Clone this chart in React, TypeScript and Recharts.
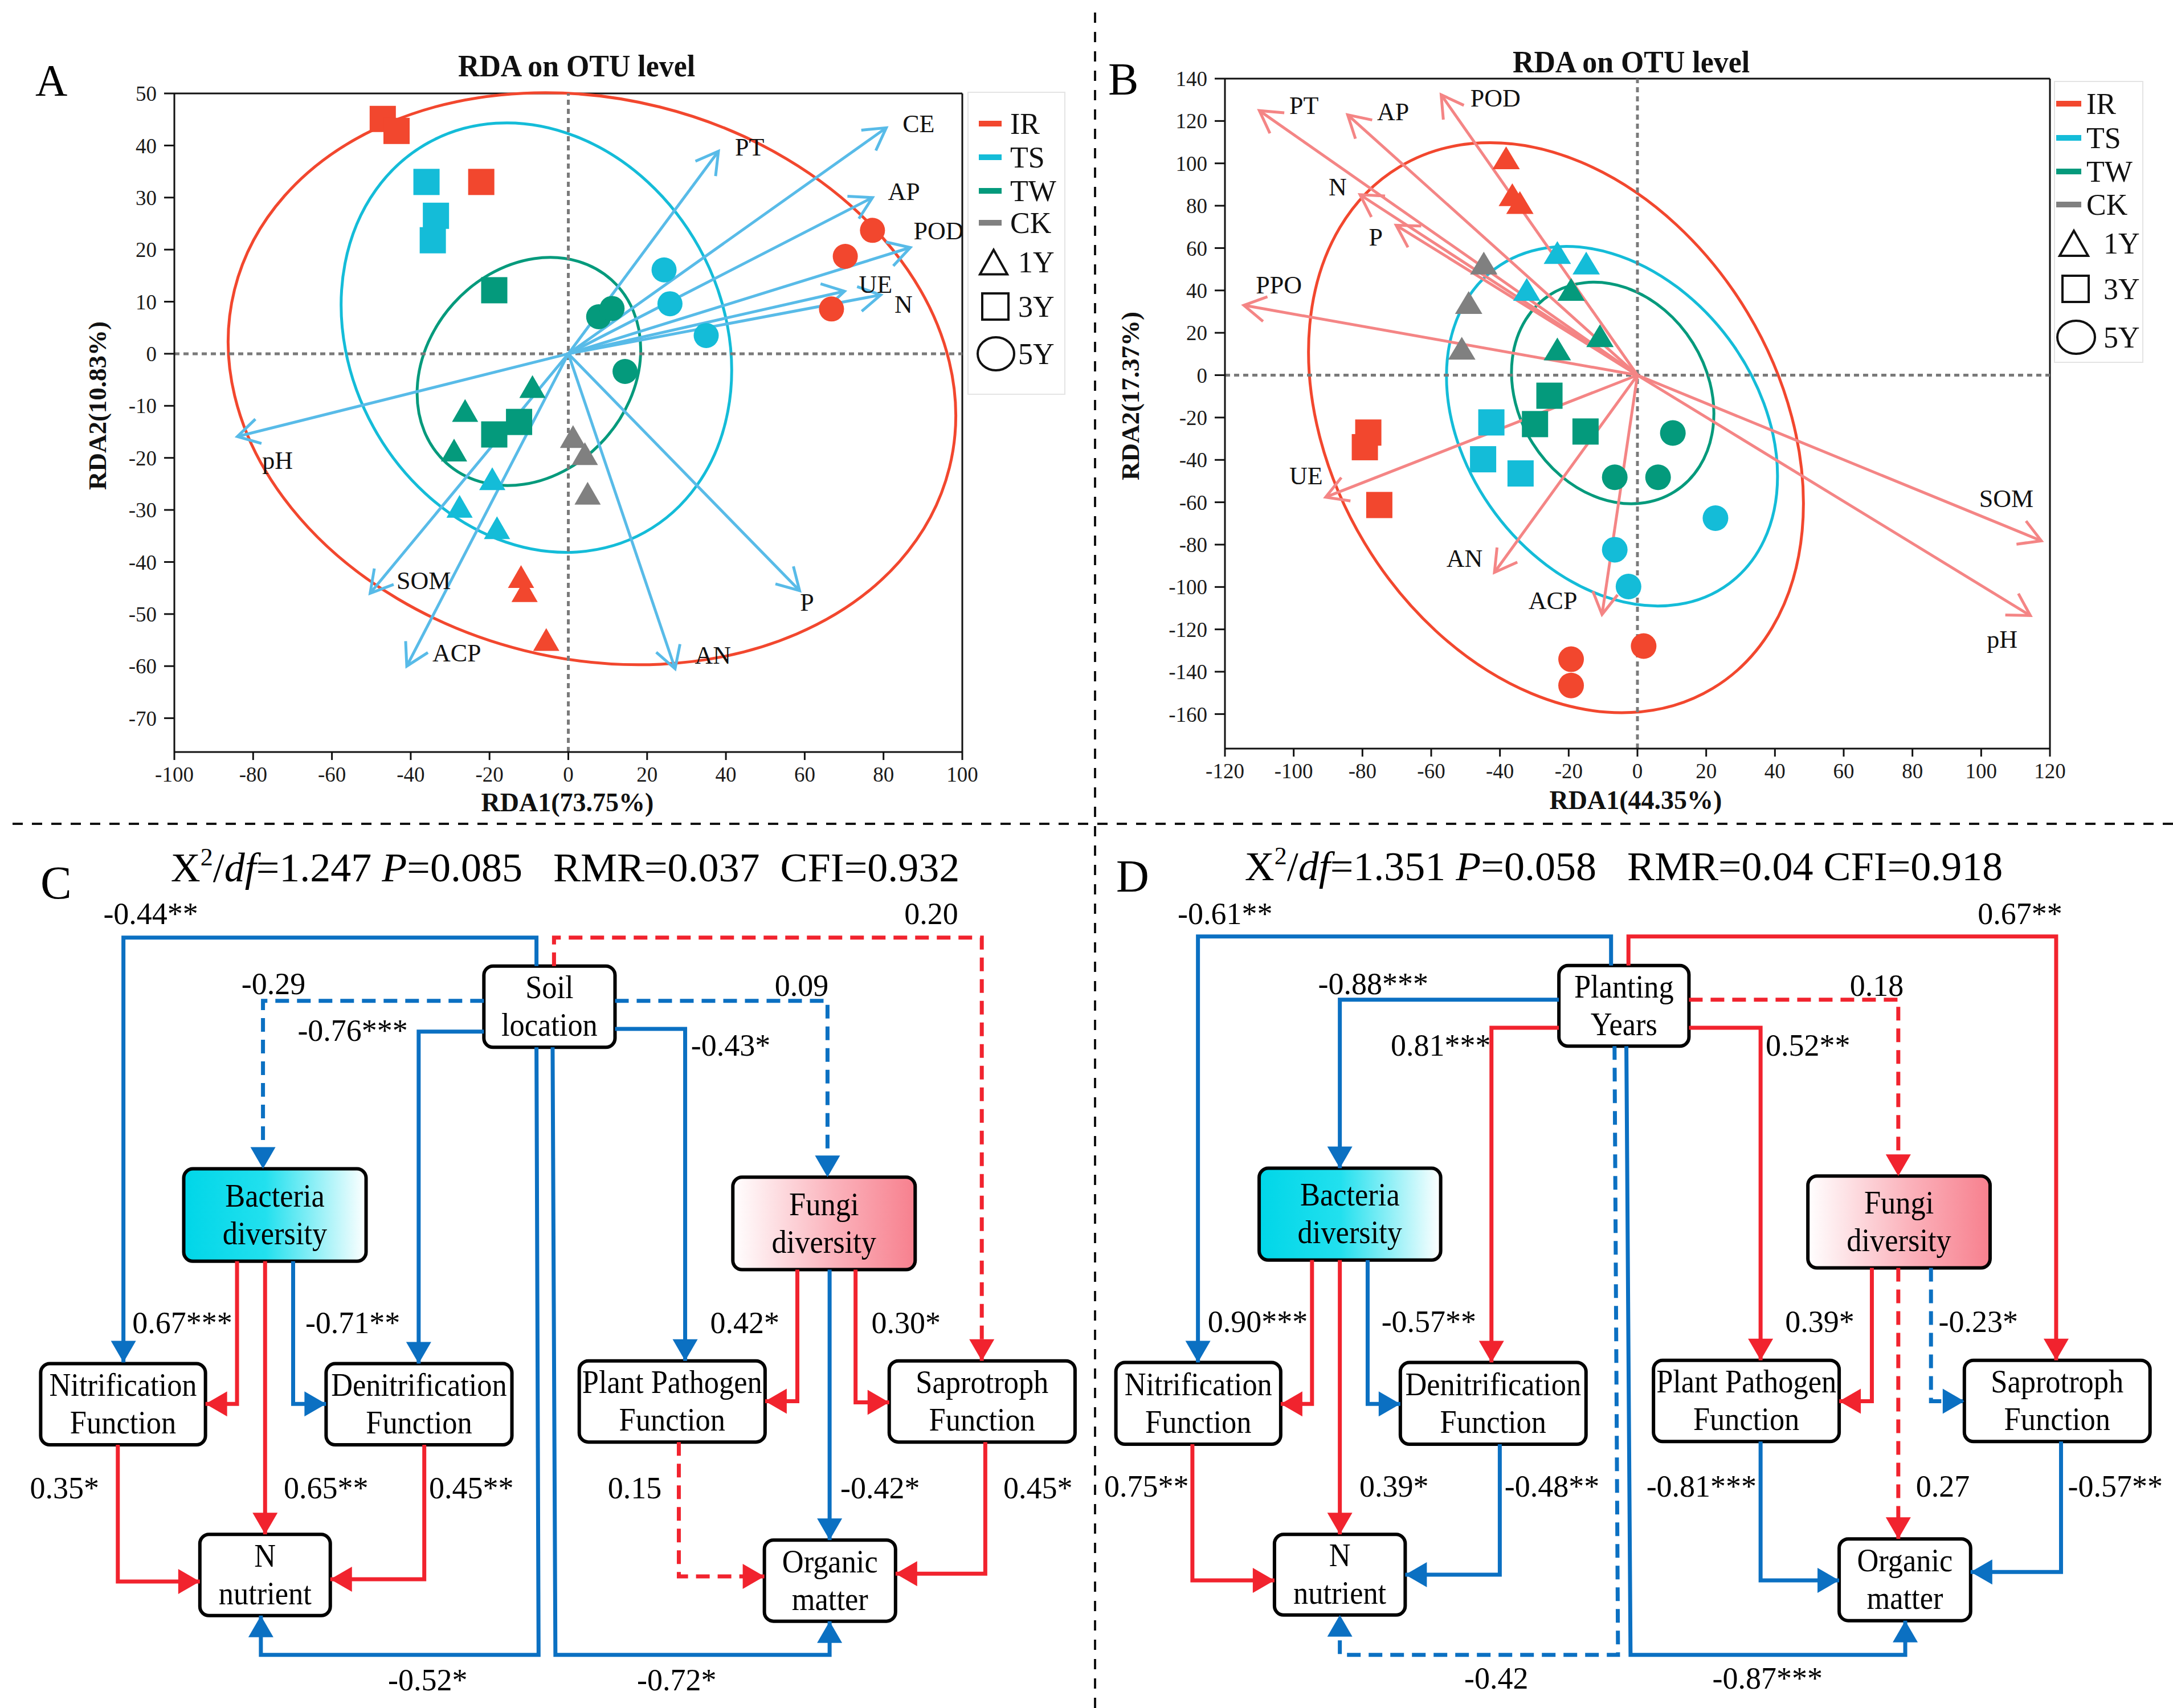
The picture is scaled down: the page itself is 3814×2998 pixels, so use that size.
import React from "react";
import { ScatterChart, Scatter, XAxis, YAxis, ReferenceLine } from "recharts";

const FONT = "'Liberation Serif', 'Times New Roman', serif";

// group colours
const IR = "#F2472E";
const TS = "#14BCD8";
const TW = "#049A7C";
const CK = "#808080";
const SKY = "#58BBE8";
const SALMON = "#F48585";
const PATH_BLUE = "#0B70C2";
const PATH_RED = "#F1232E";

const GROUP_NAMES = ["IR", "TS", "TW", "CK"];
const GROUP_COLORS = [IR, TS, TW, CK];
const YEAR_NAMES = ["1Y", "3Y", "5Y"];

// ---------- panel A : RDA on OTU level ----------
const A_X_TICKS = [-100, -80, -60, -40, -20, 0, 20, 40, 60, 80, 100];
const A_Y_TICKS = [-70, -60, -50, -40, -30, -20, -10, 0, 10, 20, 30, 40, 50];

const A_IR_1Y = [[-12.0, -42.8], [-11.1, -45.5], [-5.6, -54.9]];
const A_TS_1Y = [[-19.3, -24.0], [-27.6, -29.3], [-18.1, -33.4]];
const A_TW_1Y = [[-9.1, -6.3], [-26.2, -10.9], [-29.0, -18.5]];
const A_CK_1Y = [[1.2, -15.9], [4.2, -19.2], [4.9, -26.8]];
const A_IR_3Y = [[-47.1, 45.1], [-43.6, 42.8], [-22.1, 33.0]];
const A_TS_3Y = [[-36.0, 33.0], [-33.6, 26.5], [-34.4, 21.8]];
const A_TW_3Y = [[-18.8, 12.2], [-12.5, -13.1], [-18.8, -15.5]];
const A_IR_5Y = [[77.2, 23.7], [70.3, 18.7], [66.8, 8.6]];
const A_TS_5Y = [[24.3, 16.1], [25.8, 9.6], [35.0, 3.5]];
const A_TW_5Y = [[7.7, 7.1], [11.1, 8.7], [14.4, -3.4]];

const A_ENV = ["CE", "PT", "AP", "POD", "UE", "N", "pH", "SOM", "ACP", "AN", "P"];
const A_ENV_TIP = [
  [80.7, 43.4], [38.1, 38.9], [77.2, 30.0], [86.8, 20.4], [70.1, 12.0], [79.3, 11.3],
  [-84.0, -15.9], [-50.3, -46.0], [-41.0, -60.0], [27.1, -60.5], [58.7, -45.5],
];
const A_ENV_LABEL = [
  [88.9, 44.1], [46.0, 39.7], [85.2, 31.1], [94.0, 23.6], [78.0, 13.3], [85.1, 9.5],
  [-73.8, -20.5], [-36.7, -43.6], [-28.3, -57.5], [36.7, -58.0], [60.6, -47.8],
];
// confidence ellipses for IR, TS, TW
const A_ELL_CENTER = [[6.0, -4.8], [-8.1, 3.1], [-10.0, -3.4]];
const A_ELL_RADII = [[93.5, 53.8], [47.2, 42.8], [31.3, 19.5]];
const A_ELL_TILT = [14, -29, -48];

// ---------- panel B : RDA on OTU level ----------
const B_X_TICKS = [-120, -100, -80, -60, -40, -20, 0, 20, 40, 60, 80, 100, 120];
const B_Y_TICKS = [-160, -140, -120, -100, -80, -60, -40, -20, 0, 20, 40, 60, 80, 100, 120, 140];

const B_IR_1Y = [[-38.2, 102.6], [-36.4, 85.2], [-34.2, 81.5]];
const B_TS_1Y = [[-23.3, 57.9], [-14.9, 52.9], [-32.2, 40.5]];
const B_TW_1Y = [[-19.3, 40.5], [-10.9, 18.6], [-23.3, 12.4]];
const B_CK_1Y = [[-44.7, 52.9], [-49.1, 34.3], [-51.1, 12.7]];
const B_IR_3Y = [[-78.3, -27.1], [-79.3, -34.0], [-75.1, -61.3]];
const B_TS_3Y = [[-42.5, -22.3], [-44.9, -39.7], [-34.0, -46.4]];
const B_TW_3Y = [[-25.6, -9.7], [-29.8, -23.1], [-15.1, -26.6]];
const B_IR_5Y = [[1.8, -127.9], [-19.3, -134.1], [-19.3, -146.5]];
const B_TS_5Y = [[22.7, -67.5], [-6.6, -82.4], [-2.6, -99.8]];
const B_TW_5Y = [[10.3, -27.3], [-6.6, -48.2], [6.0, -48.2]];

const B_ENV = ["PT", "AP", "POD", "N", "P", "PPO", "UE", "AN", "ACP", "SOM", "pH"];
const B_ENV_TIP = [
  [-110.0, 124.9], [-84.3, 122.9], [-57.1, 132.4], [-80.7, 85.2], [-70.2, 70.8], [-114.5, 33.0],
  [-90.7, -57.6], [-41.6, -93.1], [-10.3, -113.0], [117.5, -78.2], [114.3, -113.5],
];
const B_ENV_LABEL = [
  [-97.0, 127.1], [-71.1, 124.4], [-41.3, 130.6], [-87.2, 88.7], [-76.1, 65.1], [-104.3, 42.5],
  [-96.4, -47.7], [-50.3, -86.7], [-24.6, -106.5], [107.3, -58.4], [106.1, -124.7],
];
const B_ELL_CENTER = [[-23.7, -24.8], [-7.4, -24.1], [-7.2, -8.4]];
const B_ELL_RADII = [[65.0, 143.6], [42.4, 92.6], [27.5, 55.0]];
const B_ELL_TILT = [-31, -36.7, -32];

// ---------- panels C and D : structural equation models ----------
const NODE_TEXT_C = [
  ["Soil", "location"], ["Bacteria", "diversity"], ["Fungi", "diversity"],
  ["Nitrification", "Function"], ["Denitrification", "Function"], ["Plant Pathogen", "Function"],
  ["Saprotroph", "Function"], ["N", "nutrient"], ["Organic", "matter"],
];
const NODE_TEXT_D = [["Planting", "Years"], ...NODE_TEXT_C.slice(1)];

// node boxes in diagram units [x1, y1, x2, y2]
const C_BOX = [
  [690, 243, 877, 388], [262, 605, 522, 770], [1045, 620, 1305, 785],
  [58, 953, 293, 1098], [465, 953, 730, 1098], [826, 948, 1091, 1093],
  [1268, 948, 1533, 1093], [285, 1258, 471, 1403], [1090, 1268, 1277, 1413],
];
const D_BOX = [
  [685, 242, 872, 386], [254, 604, 515, 768], [1043, 618, 1305, 782],
  [48, 951, 285, 1097], [457, 951, 724, 1097], [821, 947, 1088, 1092],
  [1268, 947, 1535, 1092], [276, 1258, 464, 1402], [1088, 1266, 1277, 1412],
];

const C_COEF = [
  "-0.44**", "0.20", "-0.29", "0.09", "-0.76***", "-0.43*", "-0.52*", "-0.72*", "0.67***",
  "0.65**", "-0.71**", "0.42*", "-0.42*", "0.30*", "0.35*", "0.45**", "0.15", "0.45*",
];
const C_SIGN = ["b", "r", "b", "b", "b", "b", "b", "b", "r", "r", "b", "r", "b", "r", "r", "r", "r", "r"];
const C_DASHED = [0, 1, 1, 1, 0, 0, 0, 0, 0, 0, 0, 0, 0, 0, 0, 0, 1, 0];
const C_COEF_AT = [
  [215, 150], [1328, 150], [390, 275], [1143, 278], [503, 358], [1042, 385], [610, 1518], [965, 1518],
  [260, 880], [465, 1175], [503, 880], [1062, 880], [1255, 1175], [1292, 880], [92, 1175], [672, 1175],
  [905, 1175], [1480, 1175],
];
const C_ROUTE = [
  [[765, 243], [765, 192], [176, 192], [176, 951]],
  [[790, 243], [790, 192], [1400, 192], [1400, 948]],
  [[690, 305], [375, 305], [375, 605]],
  [[877, 305], [1180, 305], [1180, 620]],
  [[690, 360], [597, 360], [597, 953]],
  [[877, 355], [977, 355], [977, 948]],
  [[765, 388], [768, 1473], [372, 1473], [372, 1403]],
  [[788, 388], [792, 1473], [1183, 1473], [1183, 1413]],
  [[338, 770], [338, 1025], [293, 1025]],
  [[378, 770], [378, 1258]],
  [[418, 770], [418, 1025], [465, 1025]],
  [[1137, 785], [1137, 1020], [1091, 1020]],
  [[1183, 785], [1183, 1268]],
  [[1220, 785], [1220, 1022], [1268, 1022]],
  [[168, 1098], [168, 1342], [285, 1342]],
  [[605, 1098], [605, 1338], [471, 1338]],
  [[968, 1093], [968, 1333], [1090, 1333]],
  [[1405, 1093], [1405, 1328], [1277, 1328]],
];

const D_COEF = [
  "-0.61**", "0.67**", "-0.88***", "0.18", "0.81***", "0.52**", "-0.42", "-0.87***", "0.90***",
  "0.39*", "-0.57**", "0.39*", "0.27", "-0.23*", "0.75**", "-0.48**", "-0.81***", "-0.57**",
];
const D_SIGN = ["b", "r", "b", "r", "r", "r", "b", "b", "r", "r", "b", "r", "r", "b", "r", "b", "b", "b"];
const D_DASHED = [0, 0, 0, 1, 0, 0, 1, 0, 0, 0, 0, 0, 1, 1, 0, 0, 0, 0];
const D_COEF_AT = [
  [205, 150], [1348, 150], [418, 275], [1142, 278], [515, 385], [1043, 385], [595, 1515], [985, 1515],
  [252, 878], [448, 1172], [498, 878], [1060, 878], [1237, 1172], [1288, 878], [92, 1172], [675, 1172],
  [890, 1172], [1485, 1172],
];
const D_ROUTE = [
  [[760, 242], [760, 190], [166, 190], [166, 951]],
  [[785, 242], [785, 190], [1400, 190], [1400, 947]],
  [[685, 303], [370, 303], [370, 604]],
  [[872, 303], [1173, 303], [1173, 618]],
  [[685, 353], [588, 353], [588, 951]],
  [[872, 353], [975, 353], [975, 947]],
  [[765, 386], [770, 1473], [370, 1473], [370, 1402]],
  [[782, 386], [788, 1473], [1183, 1473], [1183, 1412]],
  [[330, 768], [330, 1025], [285, 1025]],
  [[370, 768], [370, 1258]],
  [[410, 768], [410, 1025], [457, 1025]],
  [[1135, 782], [1135, 1020], [1088, 1020]],
  [[1173, 782], [1173, 1266]],
  [[1220, 782], [1220, 1020], [1268, 1020]],
  [[158, 1097], [158, 1340], [276, 1340]],
  [[600, 1097], [600, 1330], [464, 1330]],
  [[975, 1092], [975, 1340], [1088, 1340]],
  [[1407, 1092], [1407, 1325], [1277, 1325]],
];

const TICK_STYLE = { fill: "#1a1a1a", fontSize: 37, fontFamily: FONT };
const AXIS_STYLE = { stroke: "#111", strokeWidth: 3 };

const toPoints = (pairs: number[][]) => pairs.map(([x, y]) => ({ x, y }));

function markerShape(kind: string, color: string, sz: any) {
  return (p: any) => {
    const { cx, cy } = p;
    if (cx == null || cy == null) return <g />;
    if (kind === "square") {
      return <rect x={cx - sz.sq / 2} y={cy - sz.sq / 2} width={sz.sq} height={sz.sq} fill={color} />;
    }
    if (kind === "circle") {
      return <circle cx={cx} cy={cy} r={sz.ci / 2} fill={color} />;
    }
    const w = sz.tw / 2;
    const h = sz.th / 2;
    return <polygon points={`${cx},${cy - h} ${cx - w},${cy + h} ${cx + w},${cy + h}`} fill={color} />;
  };
}

const ellipseShape = (color: string, tilt: number) => (p: any) => {
  const cx = (p.x1 + p.x2) / 2;
  const cy = (p.y1 + p.y2) / 2;
  const rx = Math.abs(p.x2 - p.x1) / 2;
  const ry = Math.abs(p.y2 - p.y1) / 2;
  return (
    <ellipse cx={cx} cy={cy} rx={rx} ry={ry} fill="none" stroke={color} strokeWidth={5}
      transform={`rotate(${tilt} ${cx} ${cy})`} />
  );
};

const vectorShape = (color: string) => (p: any) => {
  const { x1, y1, x2, y2 } = p;
  const ang = Math.atan2(y2 - y1, x2 - x1);
  const len = 44;
  const spread = Math.PI / 6;
  const ax = x2 - len * Math.cos(ang - spread);
  const ay = y2 - len * Math.sin(ang - spread);
  const bx = x2 - len * Math.cos(ang + spread);
  const by = y2 - len * Math.sin(ang + spread);
  return (
    <g>
      <line x1={x1} y1={y1} x2={x2} y2={y2} stroke={color} strokeWidth={5} />
      <polyline points={`${ax},${ay} ${x2},${y2} ${bx},${by}`} fill="none" stroke={color} strokeWidth={5} />
    </g>
  );
};

const envLabelShape = (p: any) => {
  if (p.cx == null) return <g />;
  return (
    <text x={p.cx} y={p.cy} textAnchor="middle" dominantBaseline="central" fontSize={44} fontFamily={FONT} fill="#111">
      {p.payload.name}
    </text>
  );
};

function RdaPanel(props: any) {
  const {
    left, width, margin, xDomain, yDomain, xTicks, yTicks, series, envNames, envTips, envLabels,
    ellCenters, ellRadii, ellTilts, arrowColor, size,
  } = props;
  const labelData = envNames.map((name: string, i: number) => ({ x: envLabels[i][0], y: envLabels[i][1], name }));
  return (
    <div style={{ position: "absolute", left, top: 0 }}>
      <ScatterChart width={width} height={1440} margin={margin}>
        <XAxis type="number" dataKey="x" domain={xDomain} ticks={xTicks} interval={0} allowDataOverflow
          height={100} tickSize={14} tickMargin={12} tick={TICK_STYLE} axisLine={AXIS_STYLE} tickLine={AXIS_STYLE} />
        <YAxis type="number" dataKey="y" domain={yDomain} ticks={yTicks} interval={0} allowDataOverflow
          width={100} tickSize={18} tickMargin={13} tick={TICK_STYLE} axisLine={AXIS_STYLE} tickLine={AXIS_STYLE} />
        <ReferenceLine y={yDomain[1]} stroke="#111" strokeWidth={3} />
        <ReferenceLine x={xDomain[1]} stroke="#111" strokeWidth={3} />
        {ellCenters.map((c: number[], i: number) => (
          <ReferenceLine
            key={`ell-${i}`}
            ifOverflow="visible"
            segment={[
              { x: c[0] - ellRadii[i][0], y: c[1] - ellRadii[i][1] },
              { x: c[0] + ellRadii[i][0], y: c[1] + ellRadii[i][1] },
            ]}
            shape={ellipseShape(GROUP_COLORS[i], ellTilts[i])}
          />
        ))}
        <ReferenceLine x={0} stroke="#7a7a7a" strokeWidth={5} strokeDasharray="9 7" />
        <ReferenceLine y={0} stroke="#7a7a7a" strokeWidth={5} strokeDasharray="9 7" />
        {envTips.map((t: number[], i: number) => (
          <ReferenceLine
            key={`env-${i}`}
            ifOverflow="visible"
            segment={[{ x: 0, y: 0 }, { x: t[0], y: t[1] }]}
            shape={vectorShape(arrowColor)}
          />
        ))}
        {series.map((s: any, i: number) => (
          <Scatter key={`s-${i}`} data={toPoints(s.pts)} fill={s.color}
            shape={markerShape(s.kind, s.color, size)} isAnimationActive={false} />
        ))}
        <Scatter data={labelData} fill="#111" shape={envLabelShape} isAnimationActive={false} />
      </ScatterChart>
    </div>
  );
}

function boxShape(lines: string[], fill: string, gradient: string | null, gid: string) {
  return (p: any) => {
    const x = Math.min(p.x1, p.x2);
    const y = Math.min(p.y1, p.y2);
    const w = Math.abs(p.x2 - p.x1);
    const h = Math.abs(p.y2 - p.y1);
    const cx = x + w / 2;
    const cy = y + h / 2;
    return (
      <g>
        {gradient === "cyan" && (
          <defs>
            <linearGradient id={gid} x1="0" y1="0" x2="1" y2="0">
              <stop offset="0" stopColor="#00D6E8" />
              <stop offset="0.45" stopColor="#22E0EE" />
              <stop offset="1" stopColor="#FFFFFF" />
            </linearGradient>
          </defs>
        )}
        {gradient === "pink" && (
          <defs>
            <linearGradient id={gid} x1="0" y1="0" x2="1" y2="0">
              <stop offset="0" stopColor="#FFFFFF" />
              <stop offset="0.55" stopColor="#FBB3BC" />
              <stop offset="1" stopColor="#F7808E" />
            </linearGradient>
          </defs>
        )}
        <rect x={x} y={y} width={w} height={h} rx={16} ry={16}
          fill={gradient ? `url(#${gid})` : fill} stroke="#000" strokeWidth={6} />
        <text transform={`translate(${cx},${cy - 34}) scale(0.92,1)`} textAnchor="middle" dominantBaseline="central"
          fontSize={57} fontFamily={FONT} fill="#000">
          {lines[0]}
        </text>
        <text transform={`translate(${cx},${cy + 32}) scale(0.92,1)`} textAnchor="middle" dominantBaseline="central"
          fontSize={57} fontFamily={FONT} fill="#000">
          {lines[1]}
        </text>
      </g>
    );
  };
}

const arrowHeadShape = (color: string) => (p: any) => {
  const { cx, cy, payload } = p;
  if (cx == null || !payload || !payload.tip) return <g />;
  const L = 38;
  const W = 22;
  let pts = "";
  if (payload.tip === "down") pts = `${cx},${cy} ${cx - W},${cy - L} ${cx + W},${cy - L}`;
  if (payload.tip === "up") pts = `${cx},${cy} ${cx - W},${cy + L} ${cx + W},${cy + L}`;
  if (payload.tip === "right") pts = `${cx},${cy} ${cx - L},${cy - W} ${cx - L},${cy + W}`;
  if (payload.tip === "left") pts = `${cx},${cy} ${cx + L},${cy - W} ${cx + L},${cy + W}`;
  return <polygon points={pts} fill={color} />;
};

const coefShape = (p: any) => {
  if (p.cx == null) return <g />;
  return (
    <text x={p.cx} y={p.cy} textAnchor="middle" dominantBaseline="central" fontSize={54} fontFamily={FONT} fill="#000">
      {p.payload.text}
    </text>
  );
};

function PathPanel(props: any) {
  const { left, width, boxes, texts, coefs, signs, dashed, coefAt, routes, prefix } = props;
  const coefData = coefs.map((text: string, i: number) => ({ x: coefAt[i][0], y: coefAt[i][1], text }));
  return (
    <div style={{ position: "absolute", left, top: 1457 }}>
      <ScatterChart width={width} height={1541} margin={{ top: 0, right: 0, bottom: 0, left: 0 }}>
        <XAxis type="number" dataKey="x" domain={[0, 1568]} hide allowDataOverflow />
        <YAxis type="number" dataKey="y" domain={[0, 1568]} reversed hide allowDataOverflow />
        {routes.map((route: number[][], i: number) => {
          const n = route.length;
          const [px, py] = route[n - 2];
          const [tx, ty] = route[n - 1];
          const dir = tx > px ? "right" : tx < px ? "left" : ty > py ? "down" : "up";
          const data = route.map(([x, y], k) => ({ x, y, tip: k === n - 1 ? dir : null }));
          const color = signs[i] === "r" ? PATH_RED : PATH_BLUE;
          const line: any = { stroke: color, strokeWidth: 7 };
          if (dashed[i]) line.strokeDasharray = "24 14";
          return (
            <Scatter key={`edge-${i}`} data={data} fill={color} line={line}
              shape={arrowHeadShape(color)} isAnimationActive={false} />
          );
        })}
        {boxes.map((b: number[], i: number) => (
          <ReferenceLine
            key={`box-${i}`}
            ifOverflow="visible"
            segment={[{ x: b[0], y: b[1] }, { x: b[2], y: b[3] }]}
            shape={boxShape(texts[i], "#FFFFFF", i === 1 ? "cyan" : i === 2 ? "pink" : null, `${prefix}-grad-${i}`)}
          />
        ))}
        <Scatter data={coefData} fill="#000" shape={coefShape} isAnimationActive={false} />
      </ScatterChart>
    </div>
  );
}

function LegendBlock(props: any) {
  const { box, swatchX, swatchW, groupY, groupTextX, shapeX, shapeY, shapeTextX, tri, sq, circ } = props;
  return (
    <g fontFamily={FONT} fontSize={52} fill="#111">
      <rect x={box[0]} y={box[1]} width={box[2]} height={box[3]} fill="none" stroke="#e4e4e4" strokeWidth={2} />
      {GROUP_NAMES.map((g, i) => (
        <g key={g}>
          <rect x={swatchX} y={groupY[i] - 5} width={swatchW} height={10} fill={GROUP_COLORS[i]} />
          <text x={groupTextX} y={groupY[i]} dominantBaseline="central">{g}</text>
        </g>
      ))}
      <polygon
        points={`${shapeX[0]},${shapeY[0] - tri[1] / 2} ${shapeX[0] - tri[0] / 2},${shapeY[0] + tri[1] / 2} ${shapeX[0] + tri[0] / 2},${shapeY[0] + tri[1] / 2}`}
        fill="none" stroke="#111" strokeWidth={4} />
      <rect x={shapeX[1] - sq / 2} y={shapeY[1] - sq / 2} width={sq} height={sq} fill="none" stroke="#111" strokeWidth={4} />
      <ellipse cx={shapeX[2]} cy={shapeY[2]} rx={circ[0]} ry={circ[1]} fill="none" stroke="#111" strokeWidth={4} />
      {YEAR_NAMES.map((y, i) => (
        <text key={y} x={shapeTextX} y={shapeY[i]} dominantBaseline="central">{y}</text>
      ))}
    </g>
  );
}

function SemTitle({ x, y, chi, p, rest }: any) {
  return (
    <text x={x} y={y} textAnchor="middle" fontSize={72} fontFamily={FONT} fill="#000" style={{ whiteSpace: "pre" }}>
      X<tspan dy={-28} fontSize={44}>2</tspan>
      <tspan dy={28}>/</tspan>
      <tspan fontStyle="italic">df</tspan>
      <tspan>{`=${chi} `}</tspan>
      <tspan fontStyle="italic">P</tspan>
      <tspan>{`=${p}${rest}`}</tspan>
    </text>
  );
}

const A_SERIES = [
  { color: IR, kind: "triangle", pts: A_IR_1Y },
  { color: TS, kind: "triangle", pts: A_TS_1Y },
  { color: TW, kind: "triangle", pts: A_TW_1Y },
  { color: CK, kind: "triangle", pts: A_CK_1Y },
  { color: IR, kind: "square", pts: A_IR_3Y },
  { color: TS, kind: "square", pts: A_TS_3Y },
  { color: TW, kind: "square", pts: A_TW_3Y },
  { color: IR, kind: "circle", pts: A_IR_5Y },
  { color: TS, kind: "circle", pts: A_TS_5Y },
  { color: TW, kind: "circle", pts: A_TW_5Y },
];

const B_SERIES = [
  { color: IR, kind: "triangle", pts: B_IR_1Y },
  { color: TS, kind: "triangle", pts: B_TS_1Y },
  { color: TW, kind: "triangle", pts: B_TW_1Y },
  { color: CK, kind: "triangle", pts: B_CK_1Y },
  { color: IR, kind: "square", pts: B_IR_3Y },
  { color: TS, kind: "square", pts: B_TS_3Y },
  { color: TW, kind: "square", pts: B_TW_3Y },
  { color: IR, kind: "circle", pts: B_IR_5Y },
  { color: TS, kind: "circle", pts: B_TS_5Y },
  { color: TW, kind: "circle", pts: B_TW_5Y },
];

export default function App() {
  return (
    <div style={{ position: "absolute", left: 0, top: 0, width: 3814, height: 2998, background: "#fff", overflow: "hidden" }}>
      <RdaPanel
        left={0} width={1900}
        margin={{ top: 164, right: 211, bottom: 20, left: 206 }}
        xDomain={[-100, 100]} yDomain={[-76.5, 50]} xTicks={A_X_TICKS} yTicks={A_Y_TICKS}
        series={A_SERIES} envNames={A_ENV} envTips={A_ENV_TIP} envLabels={A_ENV_LABEL}
        ellCenters={A_ELL_CENTER} ellRadii={A_ELL_RADII} ellTilts={A_ELL_TILT}
        arrowColor={SKY} size={{ sq: 46, ci: 44, tw: 46, th: 40 }}
      />
      <RdaPanel
        left={1930} width={1884}
        margin={{ top: 138, right: 216, bottom: 26, left: 120 }}
        xDomain={[-120, 120]} yDomain={[-176.3, 140]} xTicks={B_X_TICKS} yTicks={B_Y_TICKS}
        series={B_SERIES} envNames={B_ENV} envTips={B_ENV_TIP} envLabels={B_ENV_LABEL}
        ellCenters={B_ELL_CENTER} ellRadii={B_ELL_RADII} ellTilts={B_ELL_TILT}
        arrowColor={SALMON} size={{ sq: 46, ci: 45, tw: 48, th: 40 }}
      />
      <PathPanel
        left={0} width={1930} boxes={C_BOX} texts={NODE_TEXT_C} coefs={C_COEF} signs={C_SIGN}
        dashed={C_DASHED} coefAt={C_COEF_AT} routes={C_ROUTE} prefix="c"
      />
      <PathPanel
        left={1900} width={1914} boxes={D_BOX} texts={NODE_TEXT_D} coefs={D_COEF} signs={D_SIGN}
        dashed={D_DASHED} coefAt={D_COEF_AT} routes={D_ROUTE} prefix="d"
      />
      <svg width={3814} height={2998} style={{ position: "absolute", left: 0, top: 0, pointerEvents: "none" }}>
        {/* separators */}
        <line x1={1922} y1={22} x2={1922} y2={2998} stroke="#111" strokeWidth={4} strokeDasharray="18 16" />
        <line x1={22} y1={1446} x2={3814} y2={1446} stroke="#111" strokeWidth={4} strokeDasharray="18 16" />

        {/* panel letters */}
        <text x={62} y={167} fontSize={78} fontFamily={FONT} fill="#000">A</text>
        <text x={1945} y={166} fontSize={80} fontFamily={FONT} fill="#000">B</text>
        <text x={71} y={1577} fontSize={82} fontFamily={FONT} fill="#000">C</text>
        <text x={1959} y={1565} fontSize={80} fontFamily={FONT} fill="#000">D</text>

        {/* RDA titles */}
        <text transform="translate(1012,134) scale(0.96,1)" textAnchor="middle" fontSize={54} fontWeight="bold" fontFamily={FONT} fill="#111">
          RDA on OTU level
        </text>
        <text transform="translate(2863,127) scale(0.96,1)" textAnchor="middle" fontSize={54} fontWeight="bold" fontFamily={FONT} fill="#111">
          RDA on OTU level
        </text>

        {/* axis titles */}
        <text x={996} y={1424} textAnchor="middle" fontSize={46} fontWeight="bold" fontFamily={FONT} fill="#111">RDA1(73.75%)</text>
        <text transform="translate(186,712) rotate(-90)" textAnchor="middle" fontSize={45} fontWeight="bold" fontFamily={FONT} fill="#111">RDA2(10.83%)</text>
        <text x={2871} y={1420} textAnchor="middle" fontSize={46} fontWeight="bold" fontFamily={FONT} fill="#111">RDA1(44.35%)</text>
        <text transform="translate(1999,695) rotate(-90)" textAnchor="middle" fontSize={45} fontWeight="bold" fontFamily={FONT} fill="#111">RDA2(17.37%)</text>

        {/* legends */}
        <LegendBlock
          box={[1699, 162, 170, 530]} swatchX={1718} swatchW={40} groupY={[217, 276, 335, 391]} groupTextX={1773}
          shapeX={[1744, 1747, 1748]} shapeY={[460, 538, 621]} shapeTextX={1787} tri={[48, 43]} sq={46} circ={[32, 29]}
        />
        <LegendBlock
          box={[3606, 143, 155, 493]} swatchX={3609} swatchW={44} groupY={[182, 242, 301, 359]} groupTextX={3662}
          shapeX={[3640, 3643, 3644]} shapeY={[427, 507, 592]} shapeTextX={3692} tri={[50, 44]} sq={46} circ={[33, 29]}
        />

        {/* model fit statistics */}
        <SemTitle x={992} y={1547} chi="1.247" p="0.085" rest={"   RMR=0.037  CFI=0.932"} />
        <SemTitle x={2850} y={1545} chi="1.351" p="0.058" rest={"   RMR=0.04 CFI=0.918"} />
      </svg>
    </div>
  );
}
